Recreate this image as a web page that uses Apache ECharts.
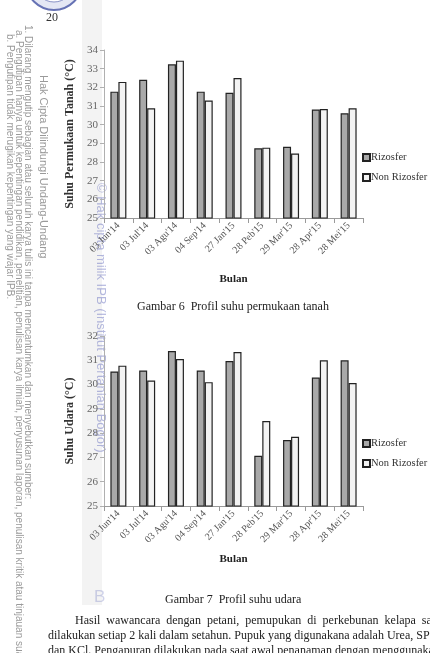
<!DOCTYPE html>
<html>
<head>
<meta charset="utf-8">
<script src="https://cdn.jsdelivr.net/npm/echarts@6/dist/echarts.min.js"></script>
<style>
html,body{margin:0;padding:0;background:#fff;}
#c{width:430px;height:653px;}
</style>
</head>
<body>
<div id="c"></div>
<script>
const categories = ["03 Jun'14","03 Jul'14","03 Agu'14","04 Sep'14","27 Jan'15","28 Peb'15","29 Mar'15","28 Apr'15","28 Mei'15"];
const seriesNames = ["Rizosfer","Non Rizosfer"];
const soilRizosfer    = [31.77,32.41,33.23,31.77,31.71,28.73,28.82,30.81,30.61];
const soilNonRizosfer = [32.29,30.88,33.43,31.29,32.50,28.77,28.45,30.84,30.88];
const airRizosfer     = [30.54,30.58,31.38,30.58,30.97,27.07,27.72,30.29,31.00];
const airNonRizosfer  = [30.78,30.17,31.05,30.10,31.34,28.50,27.85,31.00,30.06];
const soilTicks = {min:25, max:34, interval:1};
const airTicks  = {min:25, max:32, interval:1};
const texts = {
  soilAxis: "Suhu Permukaan Tanah (\u00B0C)",
  airAxis: "Suhu Udara (\u00B0C)",
  xAxis: "Bulan",
  cap6: "Gambar 6  Profil suhu permukaan tanah",
  cap7: "Gambar 7  Profil suhu udara",
  body1: "Hasil  wawancara  dengan  petani,  pemupukan  di  perkebunan  kelapa  sawit",
  body2: "dilakukan setiap 2 kali dalam setahun. Pupuk yang digunakana adalah Urea, SP36",
  body3: "dan KCl. Pengapuran dilakukan pada saat awal penanaman dengan menggunakan",
  page: "20",
  wmHead: "Hak Cipta Dilindungi Undang-Undang",
  wm1: "1. Dilarang mengutip sebagian atau seluruh karya tulis ini tanpa mencantumkan dan menyebutkan sumber:",
  wmA: "a. Pengutipan hanya untuk kepentingan pendidikan, penelitian, penulisan karya ilmiah, penyusunan laporan, penulisan kritik atau tinjauan suatu masalah",
  wmB: "b. Pengutipan tidak merugikan kepentingan yang wajar IPB.",
  wmBlue: "\u00A9 Hak cipta milik IPB (Institut Pertanian Bogor)"
};

const serif = "'Liberation Serif','Times New Roman',serif";
const sans = "'Liberation Sans',Arial,sans-serif";
const colR = '#a9a9a9', colN = '#f3f3f3';

function xAxisDef(gi, gap){
  return {
    type:'category', gridIndex:gi, data:categories,
    axisLine:{lineStyle:{color:'#9a9a9a', width:1}},
    axisTick:{show:true, alignWithLabel:false, length:5, lineStyle:{color:'#9a9a9a'}},
    axisLabel:{rotate:45, fontFamily:serif, fontSize:10, color:'#555', margin:6, interval:0},
    name:texts.xAxis, nameLocation:'middle', nameGap:gap,
    nameTextStyle:{fontFamily:serif, fontSize:11, fontWeight:'bold', color:'#222'}
  };
}
function yAxisDef(gi, t, name){
  return {
    type:'value', gridIndex:gi, min:t.min, max:t.max, interval:t.interval,
    axisLine:{show:true, lineStyle:{color:'#b0b0b0'}},
    axisTick:{show:true, length:4, lineStyle:{color:'#b0b0b0'}},
    splitLine:{show:false},
    axisLabel:{fontFamily:serif, fontSize:11, color:'#666', margin:6},
    name:name, nameLocation:'middle', nameGap:25, nameRotate:90,
    nameTextStyle:{fontFamily:serif, fontSize:12, fontWeight:'bold', color:'#333'}
  };
}
function barSeries(name, data, gi, color){
  return {
    type:'bar', name:name, xAxisIndex:gi, yAxisIndex:gi, data:data,
    barWidth:8, barGap:'0%', silent:true,
    itemStyle:{color:color, borderColor:'#222', borderWidth:1.2}
  };
}
function vtext(x, y, text, size, color, font){
  return {type:'text', x:x, y:y, rotation:-Math.PI/2,
    style:{text:text, x:0, y:0, fill:color, fontSize:size, fontFamily:font||sans, textAlign:'left', textVerticalAlign:'middle'}};
}
function htext(x, y, text, size, color, extra){
  return {type:'text', x:x, y:y,
    style:Object.assign({text:text, fill:color, fontSize:size, fontFamily:serif, textAlign:'left', textVerticalAlign:'middle'}, extra||{})};
}

const chart = echarts.init(document.getElementById('c'), null, {renderer:'canvas'});
chart.setOption({
  animation:false,
  backgroundColor:'#fff',
  grid:[
    {left:104, top:50, width:259, height:168},
    {left:104, top:336, width:259, height:170}
  ],
  xAxis:[xAxisDef(0, 56), xAxisDef(1, 48)],
  yAxis:[yAxisDef(0, soilTicks, texts.soilAxis), yAxisDef(1, airTicks, texts.airAxis)],
  legend:[
    {orient:'vertical', left:357, top:147, itemWidth:7, itemHeight:7, itemGap:9, icon:'rect', data:seriesNames,
     textStyle:{fontFamily:serif, fontSize:10.5, color:'#333', padding:[0,0,0,-4]}},
    {orient:'vertical', left:357, top:433, itemWidth:7, itemHeight:7, itemGap:9, icon:'rect', data:seriesNames,
     textStyle:{fontFamily:serif, fontSize:10.5, color:'#333', padding:[0,0,0,-4]}}
  ],
  series:[
    barSeries(seriesNames[0], soilRizosfer, 0, colR),
    barSeries(seriesNames[1], soilNonRizosfer, 0, colN),
    barSeries(seriesNames[0], airRizosfer, 1, colR),
    barSeries(seriesNames[1], airNonRizosfer, 1, colN)
  ],
  graphic:[
    {type:'rect', z:-10, shape:{x:82, y:0, width:20, height:605}, style:{fill:'#f3f3f3'}},
    {type:'circle', shape:{cx:54, cy:-18, r:28}, style:{fill:'#e4e7f4', stroke:'#6672b4', lineWidth:2}},
    {type:'circle', shape:{cx:54, cy:-18, r:20}, style:{fill:'#ffffff', stroke:'#8a93c6', lineWidth:1}},
    htext(46, 18, texts.page, 12, '#333'),
    vtext(43, 75, texts.wmHead, 11, '#9a9a9a'),
    vtext(28, 25, texts.wm1, 10, '#9a9a9a'),
    vtext(19, 30, texts.wmA, 10, '#9a9a9a'),
    vtext(10, 34, texts.wmB, 10, '#9a9a9a'),
    vtext(101, 183, texts.wmBlue, 13, 'rgba(120,128,196,0.55)'),
    htext(137, 307, texts.cap6, 12, '#222'),
    htext(165, 600, texts.cap7, 12, '#222'),
    htext(94, 597, 'B', 17, 'rgba(120,128,196,0.35)', {fontFamily:sans}),
    htext(75, 621, texts.body1, 12, '#222'),
    htext(48, 636, texts.body2, 12, '#222'),
    htext(48, 651, texts.body3, 12, '#222')
  ]
});
</script>
</body>
</html>
